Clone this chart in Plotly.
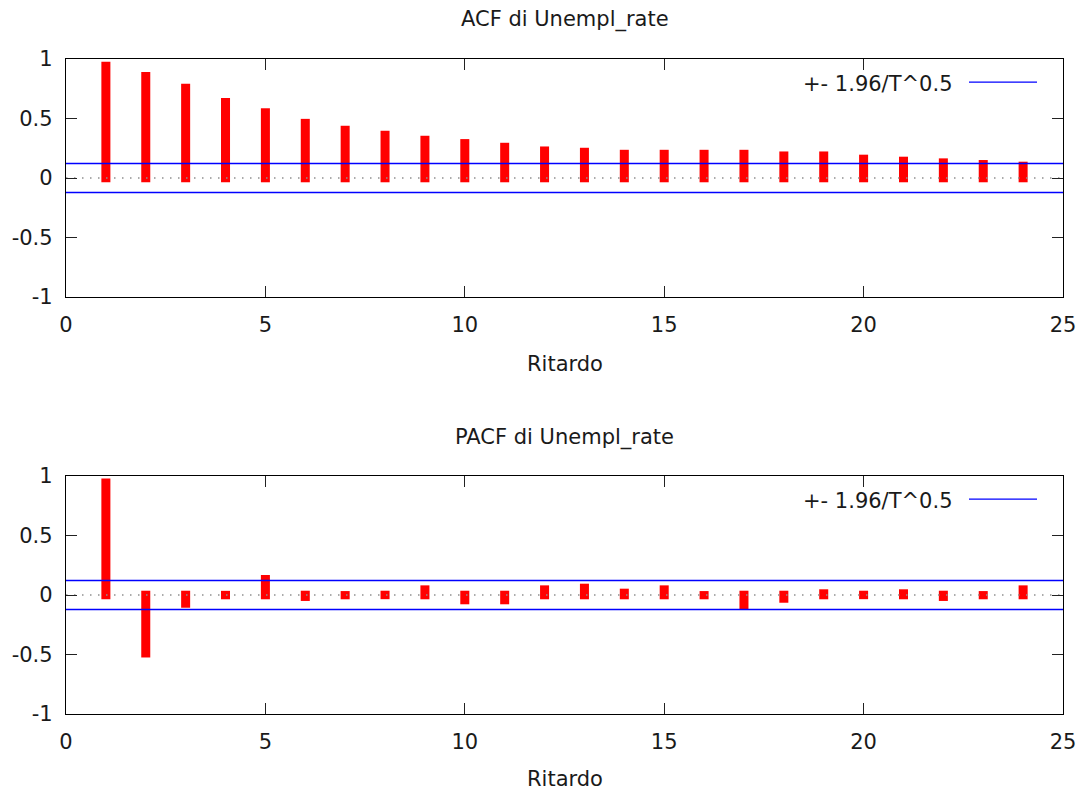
import numpy as np
import plotly.graph_objects as go

lags = list(range(1, 25))
acf_values = [0.977, 0.891, 0.791, 0.673, 0.586, 0.497, 0.439, 0.397, 0.355, 0.327,
              0.296, 0.265, 0.254, 0.237, 0.237, 0.237, 0.237, 0.223, 0.223, 0.196,
              0.179, 0.165, 0.151, 0.137]
pacf_values = [0.980, -0.525, -0.107, 0.035, 0.168, -0.050, 0.033, -0.035, 0.081, -0.078,
               -0.078, 0.081, 0.095, 0.053, 0.081, 0.033, -0.126, -0.065, 0.048, -0.035,
               0.048, -0.050, 0.033, 0.081]
conf_band = 0.122
x_ticks = [0, 5, 10, 15, 20, 25]
y_ticks = [-1, -0.5, 0, 0.5, 1]
y_tick_text = ["-1", "-0.5", "0", "0.5", "1"]
legend_label = "+- 1.96/T^0.5"
titles = ["ACF di Unempl_rate", "PACF di Unempl_rate"]
x_title = "Ritardo"

FONT = "DejaVu Sans"
FS = 21
TXT = "#1a1a1a"
EXT = 0.036  # small extension of the impulse past zero (line-cap look)

fig = go.Figure()

W, H = 1089, 792
xdom = [66 / W, 1063 / W]
ydoms = [[1 - 297 / H, 1 - 59 / H], [1 - 714 / H, 1 - 476 / H]]

for i, vals in enumerate([acf_values, pacf_values]):
    xa = "x" if i == 0 else "x2"
    ya = "y" if i == 0 else "y2"
    # dotted zero line
    fig.add_trace(go.Scatter(x=[0, 25], y=[0, 0], mode="lines", xaxis=xa, yaxis=ya,
                             line=dict(color="#909090", width=1.5, dash="1.5px,6.5px"),
                             showlegend=False, hoverinfo="skip"))
    s = np.sign(vals)
    base = list(-EXT * s)
    length = list(np.array(vals) + EXT * s)
    fig.add_trace(go.Bar(x=lags, y=length, base=base, width=0.226, xaxis=xa, yaxis=ya,
                         marker=dict(color="#ff0000", line=dict(width=0)),
                         showlegend=False))
    for sign in (1, -1):
        fig.add_trace(go.Scatter(x=[0, 25], y=[sign * conf_band] * 2, mode="lines",
                                 xaxis=xa, yaxis=ya,
                                 line=dict(color="#0000ff", width=1.3),
                                 showlegend=False, hoverinfo="skip"))

axis_common = dict(showline=True, linecolor="black", linewidth=1.3, mirror="ticks",
                   ticks="inside", ticklen=11, tickwidth=1.3, tickcolor="#222",
                   showgrid=False, zeroline=False, automargin=False,
                   tickfont=dict(family=FONT, size=FS, color=TXT))

layout = dict(
    width=W, height=H, margin=dict(l=0, r=0, t=0, b=0),
    paper_bgcolor="white", plot_bgcolor="white", barmode="overlay",
    font=dict(family=FONT, size=FS, color=TXT),
)
for i in range(2):
    sx = "" if i == 0 else "2"
    layout["xaxis" + sx] = dict(axis_common, domain=xdom, range=[0, 25], tickvals=x_ticks,
                                anchor="y" + sx, ticklabelstandoff=9)
    layout["yaxis" + sx] = dict(axis_common, domain=ydoms[i], range=[-1, 1], tickvals=y_ticks,
                                ticktext=y_tick_text, anchor="x" + sx, ticklabelstandoff=8)
fig.update_layout(**layout)

ann = []
shapes = []
title_y = [1 - 19 / H, 1 - 437 / H]
xlab_y = [1 - 364 / H, 1 - 779 / H]
for i in range(2):
    sx = "" if i == 0 else "2"
    ann.append(dict(text=titles[i], xref="paper", yref="paper", x=(xdom[0] + xdom[1]) / 2,
                    y=title_y[i], xanchor="center", yanchor="middle", showarrow=False,
                    font=dict(family=FONT, size=FS, color=TXT)))
    ann.append(dict(text=x_title, xref="paper", yref="paper", x=(xdom[0] + xdom[1]) / 2,
                    y=xlab_y[i], xanchor="center", yanchor="middle", showarrow=False,
                    font=dict(family=FONT, size=FS, color=TXT)))
    ann.append(dict(text=legend_label, xref="x" + sx + " domain", yref="y" + sx + " domain",
                    x=(955 - 66) / 997, y=0.895, xanchor="right", yanchor="middle",
                    showarrow=False, font=dict(family=FONT, size=FS, color=TXT)))
    shapes.append(dict(type="line", xref="x" + sx + " domain", yref="y" + sx + " domain",
                       x0=(969 - 66) / 997, x1=(1037 - 66) / 997, y0=0.903, y1=0.903,
                       line=dict(color="#0000ff", width=1.3)))
fig.update_layout(annotations=ann, shapes=shapes)

fig.write_html("out.html")
